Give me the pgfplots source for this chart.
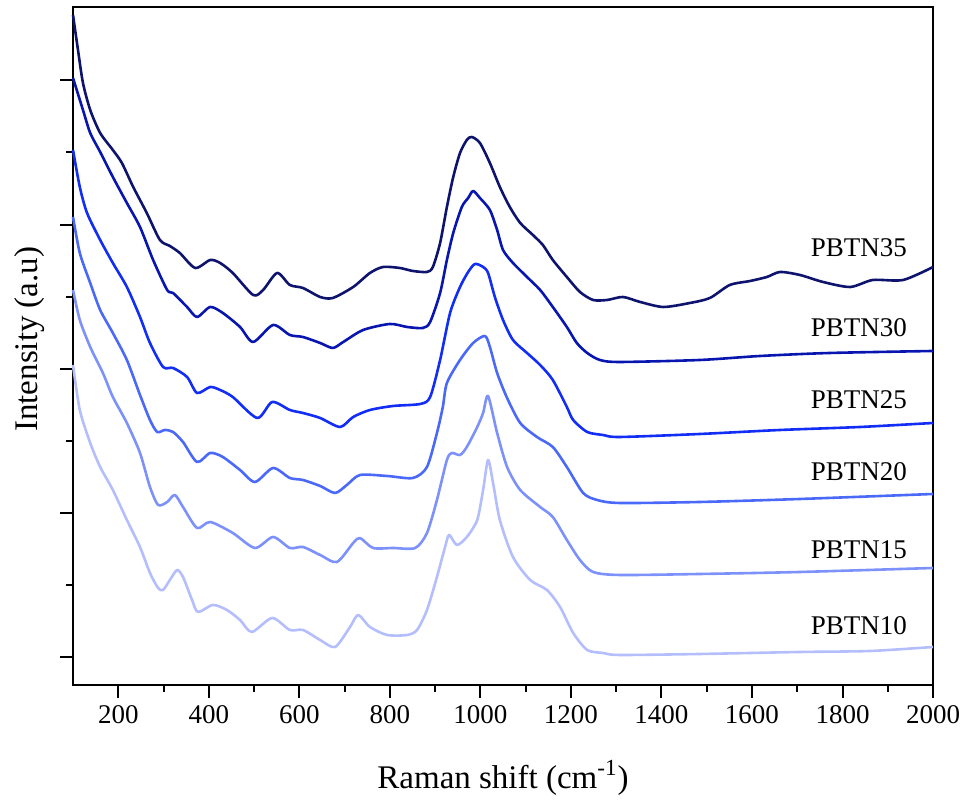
\documentclass[border=0pt]{standalone}
\usepackage{pgfplots}
\pgfplotsset{compat=1.18}
\usepackage{fontspec}
\setmainfont{Liberation Serif}
\definecolor{c35}{RGB}{14,20,110}
\definecolor{c30}{RGB}{8,22,175}
\definecolor{c25}{RGB}{18,45,245}
\definecolor{c20}{RGB}{75,105,248}
\definecolor{c15}{RGB}{125,145,250}
\definecolor{c10}{RGB}{180,190,253}
\begin{document}
\begin{tikzpicture}
\begin{axis}[
  width=430pt, height=339pt, scale only axis, clip=false,
  axis lines=box,
  xmin=100, xmax=2000, ymin=0, ymax=678,
  xtick={200,400,...,2000}, minor x tick num=1,
  ytick={28,172,316,460,605}, minor ytick={100,244,388,533}, yticklabels={},
  tick align=outside, tick pos=left,
  major tick length=6.5pt, minor tick length=3.5pt,
  every tick/.style={black, line width=1pt},
  axis line style={line width=1pt},
  ticklabel style={font=\fontsize{13.5}{16}\selectfont},
  /pgf/number format/assume math mode=true,
  /pgf/number format/1000 sep={},
  xlabel={Raman shift (cm\textsuperscript{-1})},
  ylabel={Intensity (a.u)},
  label style={font=\fontsize{16.5}{20}\selectfont},
  xlabel style={at={(axis description cs:0.5,-0.137)}, anchor=center},
  ylabel style={at={(axis description cs:-0.05,0.51)}, anchor=center},
  every axis plot/.append style={line width=1.3pt, line join=round, smooth, tension=0.45},
]
\path (rel axis cs:-0.0849,-0.1667) rectangle (rel axis cs:1.0395,1.0103);
\draw[black, line width=1.1pt] (rel axis cs:0,1) -- (rel axis cs:1,1) -- (rel axis cs:1,0);
% PBTN35
\addplot[c35] coordinates {
(100,670)(111,635)(122,602)(138,575)(160,552)(188,535)(208,522)(233,498)(263,472)(292,445)
(314,439)(336,432)(370,417)(403,425)(425,422)(453,412)(498,390)(520,395)(551,412)(579,400)
(608,397)(646,388)(674,387)(719,398)(756,412)(785,418)(822,417)(851,414)(882,413)(895,418)
(911,442)(926,478)(940,508)(955,532)(970,545)(981,548)(999,542)(1021,522)(1043,498)(1065,478)
(1088,462)(1116,450)(1138,440)(1160,425)(1191,408)(1220,393)(1249,385)(1280,385)(1315,388)
(1353,383)(1404,378)(1463,382)(1507,387)(1551,400)(1596,404)(1633,408)(1662,413)(1706,410)
(1757,403)(1817,398)(1867,405)(1934,405)(2000,418)
};
% PBTN30
\addplot[c30] coordinates {
(100,607)(122,575)(138,552)(160,533)(188,508)(219,482)(248,458)(277,425)(308,395)(321,392)
(352,378)(374,368)(403,378)(431,372)(469,358)(498,343)(542,360)(579,350)(608,348)(646,342)
(674,337)(697,343)(741,355)(800,361)(838,358)(873,357)(889,363)(911,392)(926,425)(940,452)
(959,478)(973,487)(984,494)(999,487)(1021,475)(1037,455)(1050,435)(1072,422)(1103,408)
(1132,395)(1160,378)(1191,358)(1213,342)(1236,332)(1264,325)(1308,323)(1485,325)(1618,329)
(1772,332)(2000,334)
};
% PBTN25
\addplot[c25] coordinates {
(100,535)(115,498)(131,472)(160,445)(188,422)(219,398)(248,368)(270,342)(299,318)(321,317)
(352,308)(374,292)(403,298)(425,295)(453,288)(507,267)(540,283)(579,275)(608,272)(646,267)
(690,258)(719,268)(756,275)(807,279)(867,281)(889,288)(911,325)(933,372)(955,398)(973,413)
(988,421)(1006,418)(1017,412)(1032,388)(1050,365)(1072,345)(1103,332)(1132,320)(1160,305)
(1191,278)(1205,265)(1236,253)(1271,250)(1308,248)(1485,251)(1662,255)(1839,258)(2000,262)
};
% PBTN20
\addplot[c20] coordinates {
(100,468)(115,432)(138,402)(160,375)(188,352)(219,325)(248,290)(270,265)(286,253)(303,255)
(321,253)(343,243)(374,223)(403,232)(431,228)(469,215)(502,203)(542,217)(579,207)(608,205)
(646,199)(679,192)(705,200)(734,210)(794,209)(851,207)(882,218)(904,252)(917,278)(926,302)
(955,325)(984,342)(1010,349)(1021,338)(1037,312)(1059,287)(1088,262)(1125,248)(1160,238)
(1191,218)(1227,192)(1258,185)(1308,182)(1485,183)(1706,186)(2000,191)
};
% PBTN15
\addplot[c15] coordinates {
(100,395)(115,365)(138,338)(166,312)(188,288)(219,262)(248,232)(270,198)(288,180)(308,183)
(325,190)(343,178)(374,157)(403,163)(453,152)(502,137)(542,148)(579,137)(608,138)(646,130)
(683,123)(719,142)(734,147)(763,137)(807,137)(856,137)(882,152)(904,185)(926,225)(937,232)
(955,230)(970,238)(993,258)(1006,272)(1017,289)(1037,252)(1059,218)(1088,195)(1132,178)
(1160,168)(1191,145)(1220,125)(1249,113)(1308,110)(1485,111)(1706,113)(2000,117)
};
% PBTN10
\addplot[c10] coordinates {
(100,320)(115,275)(138,242)(160,218)(188,195)(219,165)(248,138)(270,112)(288,97)(299,95)
(314,105)(330,115)(343,108)(363,85)(376,73)(409,80)(440,75)(469,65)(495,53)(540,67)
(579,55)(608,55)(646,45)(679,38)(712,58)(730,70)(756,58)(794,50)(838,50)(860,55)
(882,75)(904,108)(922,138)(931,150)(948,140)(970,148)(993,165)(1006,195)(1017,225)(1028,202)
(1043,165)(1072,128)(1110,105)(1147,95)(1176,78)(1205,52)(1236,35)(1271,32)(1308,30)
(1485,31)(1706,33)(1861,34)(2000,38)
};
\begin{scope}[every node/.style={font=\fontsize{13.5}{16}\selectfont, anchor=center}]
\node at (axis cs:1836,437) {PBTN35};
\node at (axis cs:1836,357) {PBTN30};
\node at (axis cs:1836,285) {PBTN25};
\node at (axis cs:1836,213) {PBTN20};
\node at (axis cs:1836,135) {PBTN15};
\node at (axis cs:1836,59) {PBTN10};
\end{scope}
\end{axis}
\end{tikzpicture}
\end{document}
